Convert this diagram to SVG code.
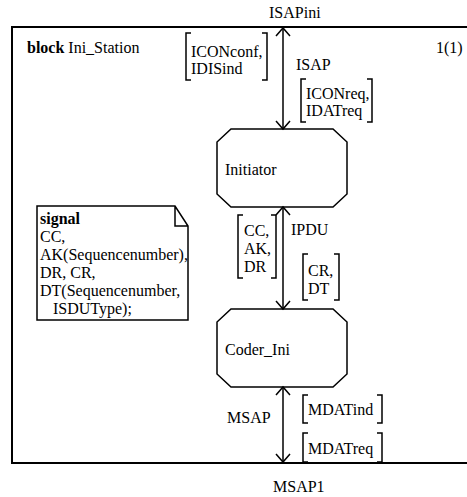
<svg xmlns="http://www.w3.org/2000/svg" width="467" height="497" viewBox="0 0 467 497">
<style>
text{font-family:"Liberation Serif","Times New Roman",serif;font-size:16px;fill:#000}
.b{font-weight:bold}
.ln{fill:none;stroke:#000;stroke-width:1.5}
.br{fill:none;stroke:#000;stroke-width:1.5}
.frame{fill:none;stroke:#000;stroke-width:2}
</style>
<defs>
<marker id="ah" markerUnits="userSpaceOnUse" markerWidth="20" markerHeight="20" refX="0" refY="0" viewBox="-10 -10 20 20" orient="auto-start-reverse" overflow="visible">
<path d="M-8,-7 L0,0 L-8,7" fill="none" stroke="#000" stroke-width="1.5"/>
</marker>
</defs>
<rect class="frame" x="12" y="27" width="465" height="436"/>
<text x="269" y="18">ISAPini</text>
<text x="273" y="492">MSAP1</text>
<text x="27" y="53"><tspan class="b">block</tspan> Ini_Station</text>
<text x="436" y="53">1(1)</text>
<g id="connectors">
<line class="ln" x1="283" y1="28" x2="283" y2="129" marker-start="url(#ah)" marker-end="url(#ah)"/>
<line class="ln" x1="283" y1="207" x2="283" y2="309" marker-start="url(#ah)" marker-end="url(#ah)"/>
<line class="ln" x1="283" y1="387" x2="283" y2="462" marker-start="url(#ah)" marker-end="url(#ah)"/>
<text x="296" y="70">ISAP</text>
<path class="br" d="M191,33 H186 V80 H191 M262,33 H267 V80 H262"/>
<text x="191" y="57">ICONconf,</text>
<text x="191" y="74">IDISind</text>
<path class="br" d="M306,79 H301 V122 H306 M367,79 H372 V122 H367"/>
<text x="306" y="99">ICONreq,</text>
<text x="306" y="116">IDATreq</text>
<text x="291" y="235">IPDU</text>
<path class="br" d="M243,215 H238 V278 H243 M271,215 H276 V278 H271"/>
<text x="244" y="236">CC,</text>
<text x="244" y="254">AK,</text>
<text x="244" y="272">DR</text>
<path class="br" d="M308,254 H303 V300 H308 M334,254 H339 V300 H334"/>
<text x="308" y="276">CR,</text>
<text x="308" y="294">DT</text>
<text x="227" y="423">MSAP</text>
<path class="br" d="M308,395 H303 V423 H308 M377,395 H382 V423 H377"/>
<text x="308" y="415">MDATind</text>
<path class="br" d="M308,433 H303 V462 H308 M377,433 H382 V462 H377"/>
<text x="308" y="454">MDATreq</text>
</g>
<g id="initiator">
<polygon class="ln" points="231,129 333,129 347,142 347,194 333,207 231,207 217,194 217,142"/>
<text x="225" y="175">Initiator</text>
</g>
<g id="coder_ini">
<polygon class="ln" points="231,309 333,309 347,322 347,374 333,387 231,387 217,374 217,322"/>
<text x="225" y="355">Coder_Ini</text>
</g>
<g id="signal">
<path class="ln" d="M37,206 H175 L188,226 V320 H37 Z M175,206 V226 H188"/>
<text x="40" y="224" class="b">signal</text>
<text x="40" y="242">CC,</text>
<text x="40" y="260">AK(Sequencenumber),</text>
<text x="40" y="278">DR, CR,</text>
<text x="40" y="296">DT(Sequencenumber,</text>
<text x="53" y="314">ISDUType);</text>
</g>
</svg>
